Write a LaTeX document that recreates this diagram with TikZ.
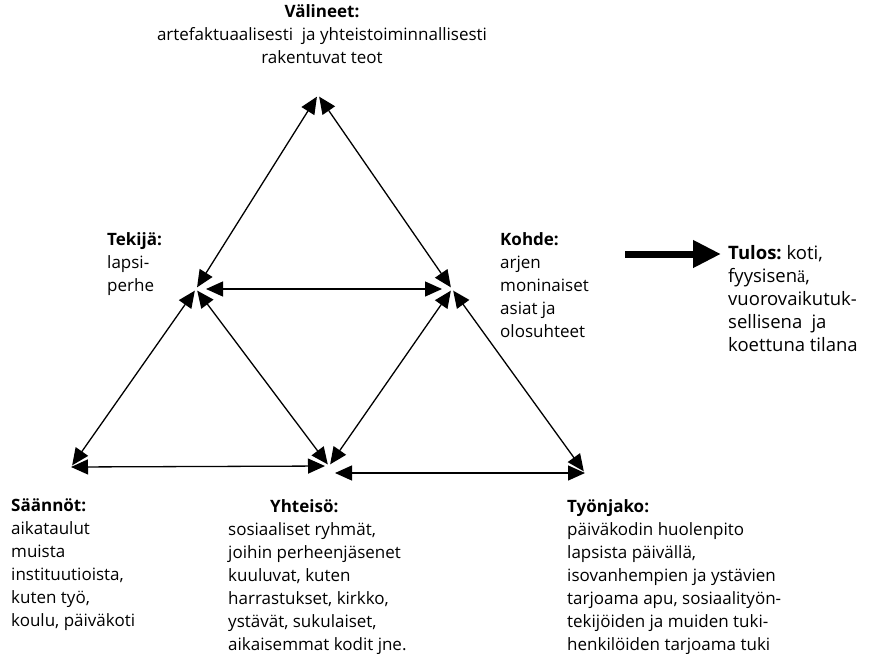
\documentclass[tikz,border=0pt]{standalone}
\usepackage{fontspec}
\setmainfont{Open Sans}
\newfontfamily\serifa{Liberation Serif}
\usetikzlibrary{arrows.meta}

\begin{document}
\begin{tikzpicture}[x=1pt,y=-1pt,
	arr/.style={<->,>={Triangle[length=17pt,width=15pt]},line width=1.3pt,shorten <=2pt,shorten >=2pt},
	txt/.style={anchor=north west,inner sep=0pt,align=left,font=\fontsize{17}{23}\selectfont}]
	\useasboundingbox (0,0) rectangle (880,653);

	% corners of the two triangles
	\coordinate (vali) at (318,95);
	\coordinate (tek) at (196,289);
	\coordinate (koh) at (452,289);
	\coordinate (saa) at (71,467);
	\coordinate (yht) at (329,466);
	\coordinate (yhtR) at (333,473);
	\coordinate (tyo) at (585,473);

	% ends of the result arrow
	\coordinate (tulosA) at (625,254);
	\coordinate (tulosB) at (721,254);

	\node[txt,align=center,anchor=north] (valineet) at (322,4) {\textbf{Välineet:}\\artefaktuaalisesti\ \ ja yhteistoiminnallisesti\\rakentuvat teot};
	\node[txt] (tekija) at (107,232) {\textbf{Tekijä:}\\lapsi-\\perhe};
	\node[txt] (kohde) at (500,232) {\textbf{Kohde:}\\arjen\\moninaiset\\asiat ja\\olosuhteet};
	\node[txt,font=\fontsize{18.5}{23}\selectfont] (tulos) at (728,245) {\textbf{Tulos:}\ koti,\\fyysisen{\serifa ä},\\vuorovaikutuk-\\sellisena\hspace{0.5em}ja\\koettuna tilana};
	\node[txt] (saannot) at (11,499) {\textbf{Säännöt:}\\aikataulut\\muista\\instituutioista,\\kuten työ,\\koulu, päiväkoti};
	\node[txt] (yhteiso) at (228,499) {\hspace*{42pt}\textbf{Yhteisö:}\\sosiaaliset ryhmät,\\joihin perheenjäsenet\\kuuluvat, kuten\\harrastukset, kirkko,\\ystävät, sukulaiset,\\aikaisemmat kodit jne.};
	\node[txt] (tyonjako) at (567,499) {\textbf{Työnjako:}\\päiväkodin huolenpito\\lapsista päivällä,\\isovanhempien ja ystävien\\tarjoama apu, sosiaalityön-\\tekijöiden ja muiden tuki-\\henkilöiden tarjoama tuki};

	% upper triangle
	\draw[arr] (tek) -- (vali);
	\draw[arr] (vali) -- (koh);
	\draw[arr,shorten <=10pt,shorten >=10pt] (tek) -- (koh);

	% lower triangles
	\draw[arr] (tek) -- (saa);
	\draw[arr] (tek) -- (yht);
	\draw[arr] (koh) -- (yht);
	\draw[arr] (koh) -- (tyo);
	\draw[arr,shorten <=0pt,shorten >=4pt] (saa) -- (yht);
	\draw[arr,shorten <=2pt,shorten >=0pt] (yhtR) -- (tyo);

	\draw[line width=7pt,-{Triangle[length=28pt,width=26pt]}] (tulosA) -- (tulosB);
\end{tikzpicture}
\end{document}
